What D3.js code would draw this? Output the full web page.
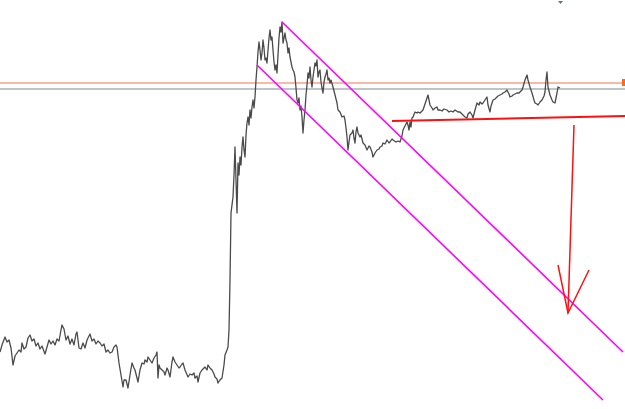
<!DOCTYPE html>
<html>
<head>
<meta charset="utf-8">
<script src="https://cdn.jsdelivr.net/npm/d3@7"></script>
<style>
  html, body { margin: 0; padding: 0; background: #fff; }
  svg { display: block; }
</style>
</head>
<body>
<div id="chart"></div>
<script>
// bar index (time) and close price
var bars = [0,2,5,7,9,11,13,15,17,19,21,22,24,26,28,30,32,34,36,38,40,42,45,47,49,51,53,55,57,59,61,62,64,66,68,70,72,74,76,77,79,81,83,85,87,89,90,92,94,96,98,100,102,104,106,108,110,112,114,116,117,119,121,123,124,126,128,130,132,134,135,137,138,140,142,144,145,147,148,150,152,154,156,157,158,159,160,162,164,165,167,168,170,172,173,175,177,179,180,182,183,185,188,190,192,194,195,197,198,200,202,204,205,207,208,210,212,214,215,217,218,220,222,224,225,227,228,229,230,231,232,233,234,235,236,237,238,239,240,241,242,243,244,245,246,247,248,249,250,251,252,253,254,255,256,257,258,259,260,261,262,263,264,265,266,267,268,269,270,271,272,273,274,275,276,277,278,279,280,281,282,283,284,285,286,287,288,289,290,291,292,293,294,295,296,297,298,299,300,301,302,303,304,305,306,307,308,309,310,311,312,313,314,315,316,317,318,319,320,321,322,323,324,325,326,327,328,329,330,331,333,335,337,338,340,342,344,345,346,347,348,349,350,352,353,354,355,356,357,358,360,361,363,365,367,369,370,372,373,375,377,379,380,382,383,385,387,389,390,392,393,396,398,400,402,403,405,407,408,409,410,411,412,413,415,417,418,420,422,423,425,427,428,429,430,432,433,435,437,438,440,442,444,447,449,451,453,455,458,460,462,463,465,467,468,470,472,473,475,477,479,480,482,483,485,487,488,490,491,493,495,497,498,500,502,503,505,507,509,510,512,513,515,517,519,520,522,523,525,527,528,530,532,534,535,537,538,540,542,544,545,546,547,548,550,552,553,555,556,557,558,560];
var closes = [57,64,72,67,69,61,44,53,56,59,57,66,60,62,71,74,68,70,63,66,60,63,55,62,69,65,68,64,70,68,79,84,80,69,73,65,70,64,75,77,61,60,66,61,69,73,75,68,70,65,68,66,63,65,57,59,56,57,62,64,62,46,34,22,29,29,21,34,46,41,39,31,27,39,46,45,49,47,52,49,46,51,54,57,31,44,41,39,37,34,41,39,32,47,52,47,44,41,42,45,46,39,32,35,34,36,31,33,27,36,39,41,42,39,44,41,39,35,32,30,26,29,31,44,54,59,62,79,129,196,204,212,234,262,229,196,246,234,252,244,262,272,259,252,274,286,292,284,299,291,302,309,301,312,329,342,357,367,359,349,356,369,361,349,351,346,359,371,379,369,372,359,347,339,344,336,354,371,382,377,387,366,371,376,369,366,356,361,352,347,342,339,337,332,321,309,306,311,299,303,292,276,289,299,314,324,336,331,342,329,322,332,339,346,343,349,332,337,339,327,321,316,327,332,335,339,329,331,326,329,322,314,306,299,297,292,293,289,281,272,259,267,274,276,279,271,266,277,282,276,272,274,266,264,259,263,262,257,252,256,259,260,262,263,266,265,269,266,267,270,269,267,268,267,273,279,283,287,284,279,287,282,291,292,297,296,297,296,298,299,305,311,314,309,304,301,299,301,302,299,299,298,300,299,297,298,297,299,297,297,295,294,292,291,295,297,294,291,299,306,304,307,305,306,309,312,304,297,303,309,310,312,313,314,315,316,317,319,315,312,313,314,315,316,316,317,319,322,329,334,329,322,316,309,306,305,304,307,309,313,317,329,337,322,314,309,307,306,311,316,322,321];

// horizontal price levels
var levelNames = ["upper level", "lower level"];
var levelPrices = [326, 320];

// support line drawn under the recent range
var supportBars = [392, 625];
var supportPrices = [288, 293];

// descending channel borders
var channelTopBars = [282, 623];
var channelTopPrices = [387, 57];
var channelBottomBars = [257, 603];
var channelBottomPrices = [344, 9];

// projected target arrow
var arrowBars = [574, 568];
var arrowPrices = [284, 96];
var arrowHeadBars = [558, 568, 589];
var arrowHeadPrices = [144, 96, 139];

var svgWidth = 625;
var svgHeight = 409;

var svg = d3.select("#chart")
  .append("svg")
  .attr("width", svgWidth)
  .attr("height", svgHeight);

var x = d3.scaleLinear().domain([0, 625]).range([0, svgWidth]);
var y = d3.scaleLinear().domain([0, 409]).range([svgHeight, 0]);

function seg(bs, ps) {
  return bs.map((b, i) => [b, ps[i]]);
}
var line = d3.line().x(d => x(d[0])).y(d => y(d[1]));

// levels
var levelColors = ["#f8b9a6", "#a9b0b8"];
svg.selectAll(".level")
  .data(levelPrices)
  .enter().append("line")
  .attr("class", "level")
  .attr("x1", 0)
  .attr("x2", svgWidth)
  .attr("y1", d => y(d))
  .attr("y2", d => y(d))
  .attr("stroke", (d, i) => levelColors[i])
  .attr("stroke-width", (d, i) => i == 0 ? 2 : 1.5);

// small orange marker on the right edge for the upper level
svg.append("rect")
  .attr("x", svgWidth - 3)
  .attr("y", y(levelPrices[0]) - 4)
  .attr("width", 3)
  .attr("height", 7)
  .attr("fill", "#ff6a1a");

// price
svg.append("path")
  .datum(seg(bars, closes))
  .attr("d", line)
  .attr("fill", "none")
  .attr("stroke", "#4a4a4a")
  .attr("stroke-width", 1.3)
  .attr("stroke-linejoin", "round");

// channel
[[channelTopBars, channelTopPrices], [channelBottomBars, channelBottomPrices]].forEach(function(c) {
  svg.append("path")
    .datum(seg(c[0], c[1]))
    .attr("d", line)
    .attr("fill", "none")
    .attr("stroke", "#ff00ff")
    .attr("stroke-width", 1.6);
});

// support line
svg.append("path")
  .datum(seg(supportBars, supportPrices))
  .attr("d", line)
  .attr("fill", "none")
  .attr("stroke", "#ff1010")
  .attr("stroke-width", 2);

// arrow
svg.append("path")
  .datum(seg(arrowBars, arrowPrices))
  .attr("d", line)
  .attr("fill", "none")
  .attr("stroke", "#ff1010")
  .attr("stroke-width", 1.5);

svg.append("path")
  .datum(seg(arrowHeadBars, arrowHeadPrices))
  .attr("d", line)
  .attr("fill", "none")
  .attr("stroke", "#ff1010")
  .attr("stroke-width", 1.5);

// tiny marker at the top
svg.append("path")
  .attr("d", "M558,1 L563,1 L560.5,4 Z")
  .attr("fill", "#5a7386");
</script>
</body>
</html>
